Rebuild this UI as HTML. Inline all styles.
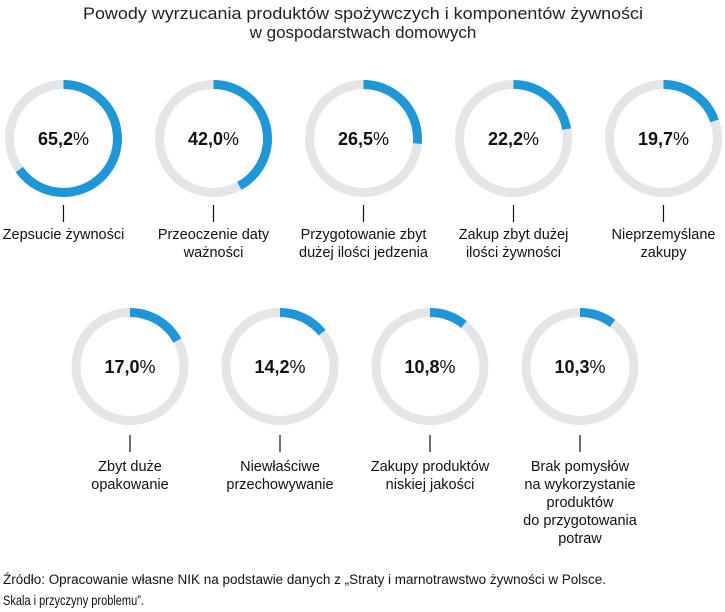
<!DOCTYPE html>
<html><head><meta charset="utf-8"><style>
html,body{margin:0;padding:0;background:#fff;}
svg{display:block;font-family:"Liberation Sans",sans-serif;}
.t{font-size:17px;fill:#222;text-anchor:middle;}
.l{font-size:14.5px;fill:#111;text-anchor:middle;}
.p{font-size:18px;font-weight:bold;fill:#111;text-anchor:middle;}
.s{font-size:13.5px;fill:#111;}
</style></head><body>
<svg width="725" height="612" viewBox="0 0 725 612">
<text class="t" x="363" y="19" textLength="560" lengthAdjust="spacingAndGlyphs">Powody wyrzucania produktów spożywczych i komponentów żywności</text>
<text class="t" x="363" y="38">w gospodarstwach domowych</text>

<g fill="none" stroke-width="9">
<circle cx="63.5" cy="138.5" r="54" stroke="#e4e5e7"/>
<circle cx="63.5" cy="138.5" r="54" stroke="#1f97d7" stroke-dasharray="221.2 400" transform="rotate(-90 63.5 138.5)"/>
<circle cx="213.5" cy="138.5" r="54" stroke="#e4e5e7"/>
<circle cx="213.5" cy="138.5" r="54" stroke="#1f97d7" stroke-dasharray="142.5 400" transform="rotate(-90 213.5 138.5)"/>
<circle cx="363.5" cy="138.5" r="54" stroke="#e4e5e7"/>
<circle cx="363.5" cy="138.5" r="54" stroke="#1f97d7" stroke-dasharray="89.9 400" transform="rotate(-90 363.5 138.5)"/>
<circle cx="513.5" cy="138.5" r="54" stroke="#e4e5e7"/>
<circle cx="513.5" cy="138.5" r="54" stroke="#1f97d7" stroke-dasharray="75.3 400" transform="rotate(-90 513.5 138.5)"/>
<circle cx="663.5" cy="138.5" r="54" stroke="#e4e5e7"/>
<circle cx="663.5" cy="138.5" r="54" stroke="#1f97d7" stroke-dasharray="66.8 400" transform="rotate(-90 663.5 138.5)"/>
<circle cx="130" cy="366.5" r="54" stroke="#e4e5e7"/>
<circle cx="130" cy="366.5" r="54" stroke="#1f97d7" stroke-dasharray="57.7 400" transform="rotate(-90 130 366.5)"/>
<circle cx="280" cy="366.5" r="54" stroke="#e4e5e7"/>
<circle cx="280" cy="366.5" r="54" stroke="#1f97d7" stroke-dasharray="48.2 400" transform="rotate(-90 280 366.5)"/>
<circle cx="430" cy="366.5" r="54" stroke="#e4e5e7"/>
<circle cx="430" cy="366.5" r="54" stroke="#1f97d7" stroke-dasharray="36.6 400" transform="rotate(-90 430 366.5)"/>
<circle cx="580" cy="366.5" r="54" stroke="#e4e5e7"/>
<circle cx="580" cy="366.5" r="54" stroke="#1f97d7" stroke-dasharray="34.9 400" transform="rotate(-90 580 366.5)"/>
</g>

<g stroke="#111" stroke-width="1.2">
<line x1="63.5" y1="205" x2="63.5" y2="222"/>
<line x1="213.5" y1="205" x2="213.5" y2="222"/>
<line x1="363.5" y1="205" x2="363.5" y2="222"/>
<line x1="513.5" y1="205" x2="513.5" y2="222"/>
<line x1="663.5" y1="205" x2="663.5" y2="222"/>
<line x1="130" y1="435" x2="130" y2="452"/>
<line x1="280" y1="435" x2="280" y2="452"/>
<line x1="430" y1="435" x2="430" y2="452"/>
<line x1="580" y1="435" x2="580" y2="452"/>
</g>

<text class="p" x="63.5" y="145">65,2<tspan font-weight="normal">%</tspan></text>
<text class="p" x="213.5" y="145">42,0<tspan font-weight="normal">%</tspan></text>
<text class="p" x="363.5" y="145">26,5<tspan font-weight="normal">%</tspan></text>
<text class="p" x="513.5" y="145">22,2<tspan font-weight="normal">%</tspan></text>
<text class="p" x="663.5" y="145">19,7<tspan font-weight="normal">%</tspan></text>
<text class="p" x="130" y="373">17,0<tspan font-weight="normal">%</tspan></text>
<text class="p" x="280" y="373">14,2<tspan font-weight="normal">%</tspan></text>
<text class="p" x="430" y="373">10,8<tspan font-weight="normal">%</tspan></text>
<text class="p" x="580" y="373">10,3<tspan font-weight="normal">%</tspan></text>

<text class="l" x="63.5" y="239">Zepsucie żywności</text>
<text class="l" x="213.5" y="239">Przeoczenie daty</text>
<text class="l" x="213.5" y="257">ważności</text>
<text class="l" x="363.5" y="239">Przygotowanie zbyt</text>
<text class="l" x="363.5" y="257">dużej ilości jedzenia</text>
<text class="l" x="513.5" y="239">Zakup zbyt dużej</text>
<text class="l" x="513.5" y="257">ilości żywności</text>
<text class="l" x="663.5" y="239">Nieprzemyślane</text>
<text class="l" x="663.5" y="257">zakupy</text>

<text class="l" x="130" y="471">Zbyt duże</text>
<text class="l" x="130" y="489">opakowanie</text>
<text class="l" x="280" y="471">Niewłaściwe</text>
<text class="l" x="280" y="489">przechowywanie</text>
<text class="l" x="430" y="471">Zakupy produktów</text>
<text class="l" x="430" y="489">niskiej jakości</text>
<text class="l" x="580" y="471">Brak pomysłów</text>
<text class="l" x="580" y="489">na wykorzystanie</text>
<text class="l" x="580" y="507">produktów</text>
<text class="l" x="580" y="525">do przygotowania</text>
<text class="l" x="580" y="543">potraw</text>

<text class="s" x="3" y="584" textLength="603" lengthAdjust="spacingAndGlyphs">Źródło: Opracowanie własne NIK na podstawie danych z „Straty i marnotrawstwo żywności w Polsce.</text>
<text class="s" x="3" y="605" textLength="141" lengthAdjust="spacingAndGlyphs">Skala i przyczyny problemu”.</text>
</svg>
</body></html>
